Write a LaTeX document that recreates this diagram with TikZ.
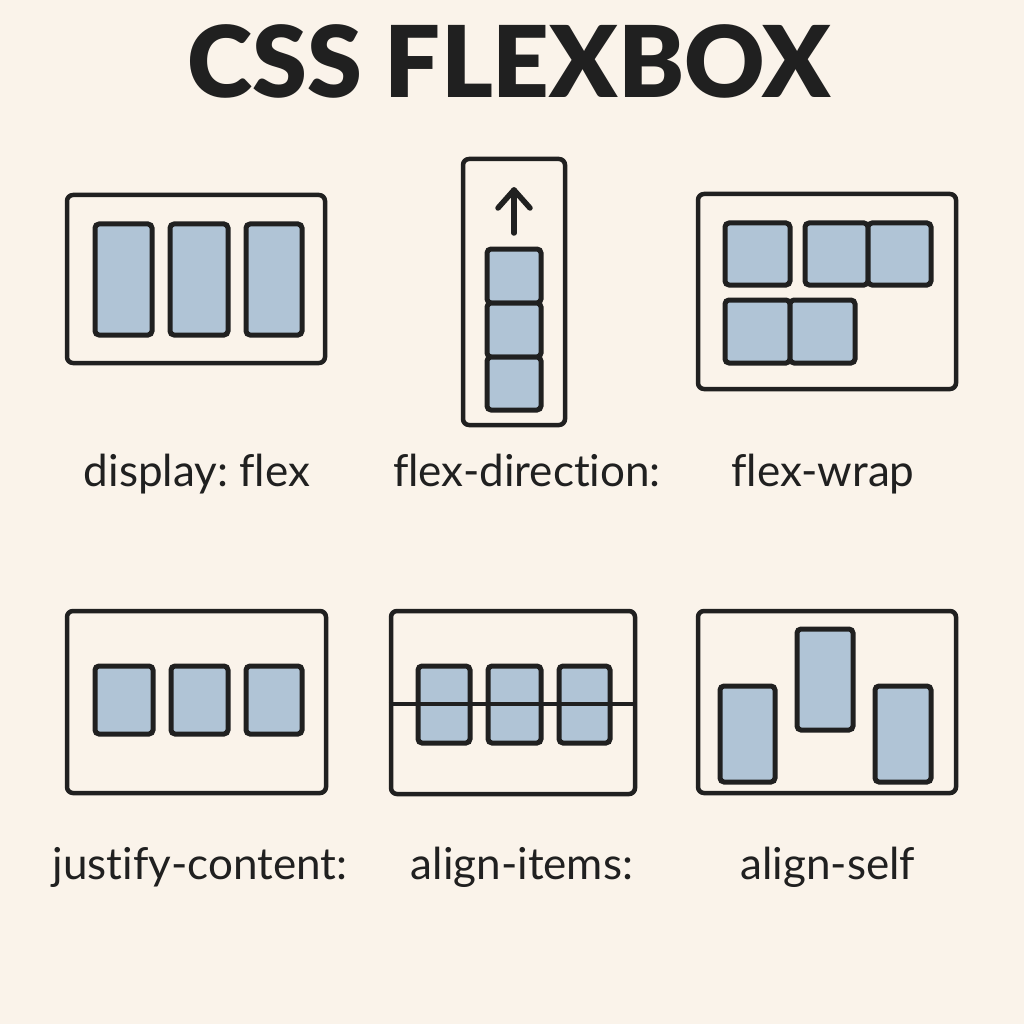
\documentclass[tikz,border=0pt]{standalone}
\usepackage{fontspec}
\setmainfont{Lato}[Ligatures=NoCommon]
\newfontfamily\titlefont{Lato Black}[Ligatures=NoCommon]
\usetikzlibrary{fit}
\definecolor{bg}{RGB}{250,243,234}
\definecolor{itemblue}{RGB}{176,196,214}
\definecolor{ink}{RGB}{32,32,32}
\frenchspacing
\begin{document}
\begin{tikzpicture}[x=1pt,y=-1pt,
  panel/.style={draw=ink,line width=4.5pt,rounded corners=6pt,inner sep=0pt,fill=bg},
  item/.style={draw=ink,fill=itemblue,line width=5pt,rounded corners=4pt,inner sep=0pt},
  lbl/.style={anchor=base,text=ink,font=\fontsize{44}{52}\selectfont},
  ttl/.style={anchor=base,text=ink,font=\fontsize{99}{110}\selectfont\titlefont},
  arrowline/.style={ink,line width=5.5pt,line cap=round,line join=round}]
\fill[bg] (0,0) rectangle (1024,1024);
\useasboundingbox (0,0) rectangle (1024,1024);
\node[ttl] (title) at (509,98) {CSS FLEXBOX};
% panel 1: display flex
\node[panel,fit={(67,195) (325,363)}] (p1) {};
\node[item,fit={(95,224) (152,335)}] (p1a) {};
\node[item,fit={(170,224) (228,335)}] (p1b) {};
\node[item,fit={(246,224) (302,335)}] (p1c) {};
\node[lbl] (l1) at (197,486) {display: flex};
% panel 2: flex-direction
\node[panel,fit={(463,159) (565,425)}] (p2) {};
\node[item,fit={(487,249) (541,303)}] (p2a) {};
\node[item,fit={(487,303) (541,357)}] (p2b) {};
\node[item,fit={(487,357) (541,410)}] (p2c) {};
\coordinate (arrT) at (514,190);
\coordinate (arrB) at (514,233);
\coordinate (arrL) at (498,208);
\coordinate (arrR) at (530,208);
\draw[arrowline] (arrB) -- (arrT);
\draw[arrowline] (arrL) -- (arrT) -- (arrR);
\node[lbl] (l2) at (527,486) {flex-direction:};
% panel 3: flex-wrap
\node[panel,fit={(698,194) (956,389)}] (p3) {};
\node[item,fit={(725,223) (790,285)}] (p3a) {};
\node[item,fit={(805,223) (868,285)}] (p3b) {};
\node[item,fit={(868,223) (931,285)}] (p3c) {};
\node[item,fit={(725,300) (790,363)}] (p3d) {};
\node[item,fit={(790,300) (855,363)}] (p3e) {};
\node[lbl] (l3) at (823,486) {flex-wrap};
% panel 4: justify-content
\node[panel,fit={(67,611) (326,793)}] (p4) {};
\node[item,fit={(95,666) (153,734)}] (p4a) {};
\node[item,fit={(171,666) (228,734)}] (p4b) {};
\node[item,fit={(246,666) (302,734)}] (p4c) {};
\node[lbl] (l4) at (200,879) {justify-content:};
% panel 5: align-items
\node[panel,fit={(391,611) (635,794)}] (p5) {};
\node[item,fit={(418,666) (470,743)}] (p5a) {};
\node[item,fit={(488,666) (541,743)}] (p5b) {};
\node[item,fit={(559,666) (610,743)}] (p5c) {};
\coordinate (axis) at (0,704);
\draw[ink,line width=4pt] (p5.west |- axis) -- (p5.east |- axis);
\node[lbl] (l5) at (522,879) {align-items:};
% panel 6: align-self
\node[panel,fit={(698,611) (956,793)}] (p6) {};
\node[item,fit={(720,686) (775,782)}] (p6a) {};
\node[item,fit={(797,629) (853,730)}] (p6b) {};
\node[item,fit={(875,686) (931,782)}] (p6c) {};
\node[lbl] (l6) at (828,879) {align-self};
\end{tikzpicture}
\end{document}
